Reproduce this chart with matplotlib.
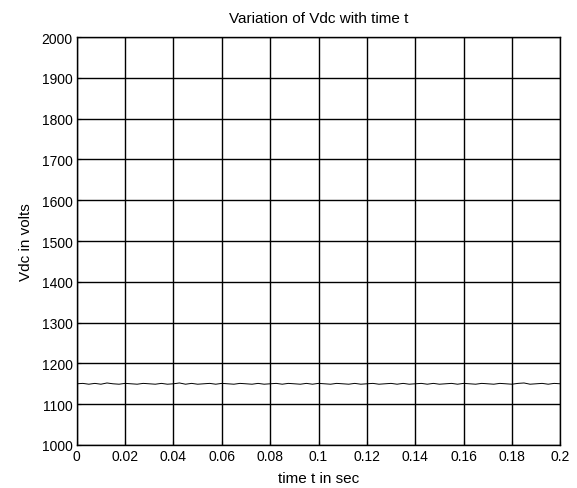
import numpy as np
import matplotlib
matplotlib.use('Agg')
import matplotlib.pyplot as plt

plt.rcParams['font.family'] = ['Liberation Sans', 'DejaVu Sans']

# DC link voltage samples (volts), one every 2.5 ms
t = [0.0, 0.0025, 0.005, 0.0075, 0.01, 0.0125, 0.015, 0.0175, 0.02, 0.0225,
     0.025, 0.0275, 0.03, 0.0325, 0.035, 0.0375, 0.04, 0.0425, 0.045, 0.0475,
     0.05, 0.0525, 0.055, 0.0575, 0.06, 0.0625, 0.065, 0.0675, 0.07, 0.0725,
     0.075, 0.0775, 0.08, 0.0825, 0.085, 0.0875, 0.09, 0.0925, 0.095, 0.0975,
     0.1, 0.1025, 0.105, 0.1075, 0.11, 0.1125, 0.115, 0.1175, 0.12, 0.1225,
     0.125, 0.1275, 0.13, 0.1325, 0.135, 0.1375, 0.14, 0.1425, 0.145, 0.1475,
     0.15, 0.1525, 0.155, 0.1575, 0.16, 0.1625, 0.165, 0.1675, 0.17, 0.1725,
     0.175, 0.1775, 0.18, 0.1825, 0.185, 0.1875, 0.19, 0.1925, 0.195, 0.1975, 0.2]
vdc = [1150, 1151, 1149, 1151, 1149, 1152, 1150, 1149, 1151, 1150,
       1149, 1151, 1150, 1149, 1151, 1149, 1150, 1152, 1149, 1151,
       1149, 1150, 1151, 1149, 1151, 1150, 1149, 1151, 1150, 1149,
       1151, 1149, 1150, 1151, 1149, 1151, 1150, 1149, 1151, 1149,
       1151, 1150, 1149, 1151, 1150, 1149, 1151, 1149, 1150, 1151,
       1149, 1150, 1151, 1149, 1151, 1149, 1150, 1151, 1149, 1151,
       1149, 1150, 1151, 1149, 1151, 1150, 1149, 1151, 1150, 1149,
       1151, 1150, 1149, 1151, 1152, 1149, 1150, 1151, 1149, 1151, 1150]

xticks = [0, 0.02, 0.04, 0.06, 0.08, 0.1, 0.12, 0.14, 0.16, 0.18, 0.2]
xticklabels = ['0', '0.02', '0.04', '0.06', '0.08', '0.1', '0.12', '0.14', '0.16', '0.18', '0.2']
yticks = list(range(1000, 2001, 100))

fig = plt.figure(figsize=(5.77, 4.89), dpi=100)
ax = fig.add_axes([0.133, 0.088, 0.838, 0.834])
ax.plot(t, vdc, color='black', linewidth=0.7)
ax.set_xlim(0, 0.2)
ax.set_ylim(1000, 2000)
ax.set_xticks(xticks)
ax.set_xticklabels(xticklabels)
ax.set_yticks(yticks)
ax.grid(True, color='black', linestyle='-', linewidth=1.0)
ax.tick_params(direction='in', length=3, labelsize=10, colors='black', pad=3)
for s in ax.spines.values():
    s.set_linewidth(1.0)
ax.set_title('Variation of Vdc with time t', fontsize=11, pad=11)
ax.set_xlabel('time t in sec', fontsize=11, labelpad=6)
ax.set_ylabel('Vdc in volts', fontsize=11, labelpad=6)
fig.savefig('out.png', dpi=100)
